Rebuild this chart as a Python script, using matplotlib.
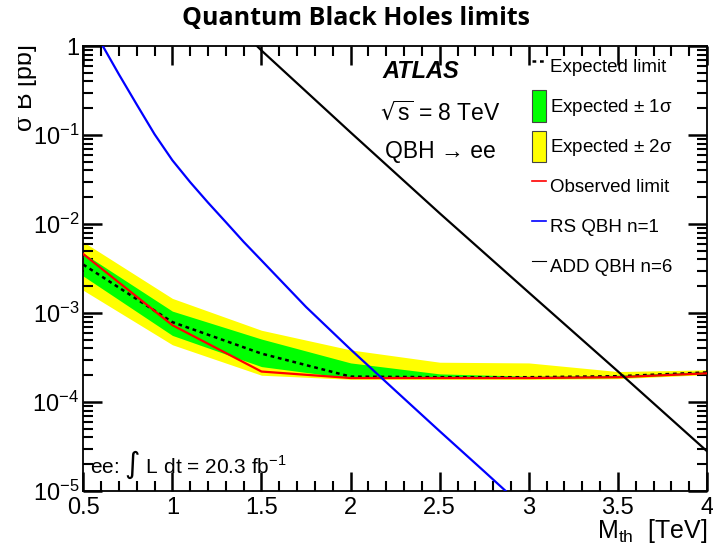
import matplotlib
matplotlib.use("Agg")
import matplotlib.pyplot as plt
import numpy as np
from matplotlib.lines import Line2D
from matplotlib.patches import Patch
from matplotlib.ticker import LogLocator, MultipleLocator, FuncFormatter, NullFormatter
from matplotlib.transforms import Bbox, TransformedBbox

plt.rcParams['font.family'] = ['Liberation Sans', 'DejaVu Sans']
plt.rcParams['mathtext.default'] = 'regular'

# ROOT style ticks: inward on all four sides
plt.rcParams.update({
    "xtick.direction": "in", "ytick.direction": "in",
    "xtick.top": True, "ytick.right": True,
    "xtick.labelsize": 17, "ytick.labelsize": 17,
    "xtick.major.pad": 4, "ytick.major.pad": 3,
    "axes.linewidth": 1.3,
})

# limit curves (M_th in TeV, sigma*B in pb)
mass = [0.5, 1.0, 1.5, 2.0, 2.5, 3.0, 3.5, 4.0]
expected = [3.5e-3, 7.9e-4, 3.5e-4, 1.93e-4, 1.9e-4, 1.9e-4, 1.95e-4, 2.15e-4]
observed = [4.6e-3, 7.3e-4, 2.2e-4, 1.86e-4, 1.86e-4, 1.86e-4, 1.9e-4, 2.1e-4]
one_sig_lo = [2.6e-3, 5.6e-4, 2.5e-4, 1.85e-4, 1.85e-4, 1.85e-4, 1.88e-4, 2.08e-4]
one_sig_hi = [4.7e-3, 1.05e-3, 5.1e-4, 2.75e-4, 2.07e-4, 1.95e-4, 2.0e-4, 2.2e-4]
two_sig_lo = [1.8e-3, 4.4e-4, 2.0e-4, 1.8e-4, 1.8e-4, 1.8e-4, 1.83e-4, 2.03e-4]
two_sig_hi = [6.3e-3, 1.46e-3, 6.4e-4, 3.85e-4, 2.8e-4, 2.75e-4, 2.2e-4, 2.3e-4]

# signal models
rs_mass = [0.5, 0.6, 0.7, 0.8, 0.9, 1.0, 1.1, 1.2, 1.3, 1.4, 1.5,
           1.75, 2.0, 2.25, 2.5, 2.75, 3.0]
rs_xsec = [2.6, 1.08, 0.48, 0.22, 0.102, 0.052, 0.0295, 0.0174, 0.0105, 6.3e-3, 3.9e-3,
           1.17e-3, 3.9e-4, 1.35e-4, 4.7e-5, 1.66e-5, 5.8e-6]
add_mass = [1.25, 1.5, 2.0, 2.5, 3.0, 3.5, 4.0]
add_xsec = [2.8, 0.89, 0.107, 0.0132, 1.7e-3, 2.21e-4, 2.8e-5]

legend_labels = ["Expected limit", r"Expected $\pm$ 1$\sigma$", r"Expected $\pm$ 2$\sigma$",
                 "Observed limit", "RS QBH n=1", "ADD QBH n=6"]

fig = plt.figure(figsize=(7.13, 5.49), dpi=100)
ax = fig.add_axes([0.1168, 0.1056, 0.8748, 0.8106])

# bands and lines
ax.fill_between(mass, two_sig_lo, two_sig_hi, color="#ffff00", lw=0, zorder=1)
ax.fill_between(mass, one_sig_lo, one_sig_hi, color="#00ff00", lw=0, zorder=2)
ax.plot(mass, expected, color="black", lw=1.8, ls=(0, (1.5, 1.5)), zorder=3)
ax.plot(mass, observed, color="#ff0000", lw=1.6, zorder=4)
ax.plot(rs_mass, rs_xsec, color="#0000ff", lw=1.6, zorder=5)
ax.plot(add_mass, add_xsec, color="black", lw=1.6, zorder=5)

ax.set_yscale("log")
ax.set_xlim(0.5, 4.0)
ax.set_ylim(1e-5, 1)

ax.xaxis.set_major_locator(MultipleLocator(0.5))
ax.xaxis.set_minor_locator(MultipleLocator(0.1))
ax.xaxis.set_major_formatter(FuncFormatter(lambda v, p: f"{v:g}"))
ax.yaxis.set_major_locator(LogLocator(base=10, numticks=10))
ax.yaxis.set_minor_locator(LogLocator(base=10, subs=np.arange(2, 10), numticks=20))
ax.yaxis.set_minor_formatter(NullFormatter())
ax.yaxis.set_major_formatter(FuncFormatter(
    lambda v, p: "1" if abs(v - 1) < 1e-9 else r"$10^{%d}$" % round(np.log10(v))))
ax.tick_params(which="both", color="black")
ax.tick_params(which="major", length=14, width=1.8)
ax.tick_params(which="minor", length=7, width=1.5)

ax.set_xlabel(r"M$_{th}$  [TeV]", fontsize=18, loc="right", labelpad=-1)

# cut-off y label as in the original
ylab = fig.text(0.035, 0.92, r"$\sigma$ B [pb]", rotation=90, fontsize=18,
                ha="center", va="top")
ylab.set_clip_box(TransformedBbox(Bbox([[0.025, 0], [1, 1]]), fig.transFigure))
ylab.set_clip_on(True)

# annotations
ax.text(0.48, 0.942, "ATLAS", transform=ax.transAxes, fontsize=17,
        fontweight="bold", fontstyle="italic", va="center")
ax.text(0.476, 0.849, r"$\sqrt{s}$ = 8 TeV", transform=ax.transAxes, fontsize=16.5, va="center")
ax.text(0.483, 0.762, "QBH \u2192 ee", transform=ax.transAxes, fontsize=16.5, va="center")
ax.text(0.011, 0.058, r"ee: $\int$ L dt = 20.3 fb$^{-1}$", transform=ax.transAxes,
        fontsize=15, va="center")

# legend
handles = [
    Line2D([], [], color="black", lw=1.8, ls=(0, (1.5, 1.5))),
    Patch(facecolor="#00ff00", edgecolor="#444444", lw=0.8),
    Patch(facecolor="#ffff00", edgecolor="#444444", lw=0.8),
    Line2D([], [], color="#ff0000", lw=1.2),
    Line2D([], [], color="#0000ff", lw=1.2),
    Line2D([], [], color="black", lw=0.8),
]
ax.legend(handles, legend_labels, loc="upper left", bbox_to_anchor=(0.72, 0.99),
          frameon=False, fontsize=13.5, handlelength=0.75, handleheight=2.2,
          handletextpad=0.2, labelspacing=0.46, borderpad=0, borderaxespad=0)

fig.text(0.5, 0.967, "Quantum Black Holes limits", ha="center", va="center",
         fontsize=18, fontweight="bold", family=["Open Sans", "DejaVu Sans"])

fig.savefig("out.png", dpi=100)
